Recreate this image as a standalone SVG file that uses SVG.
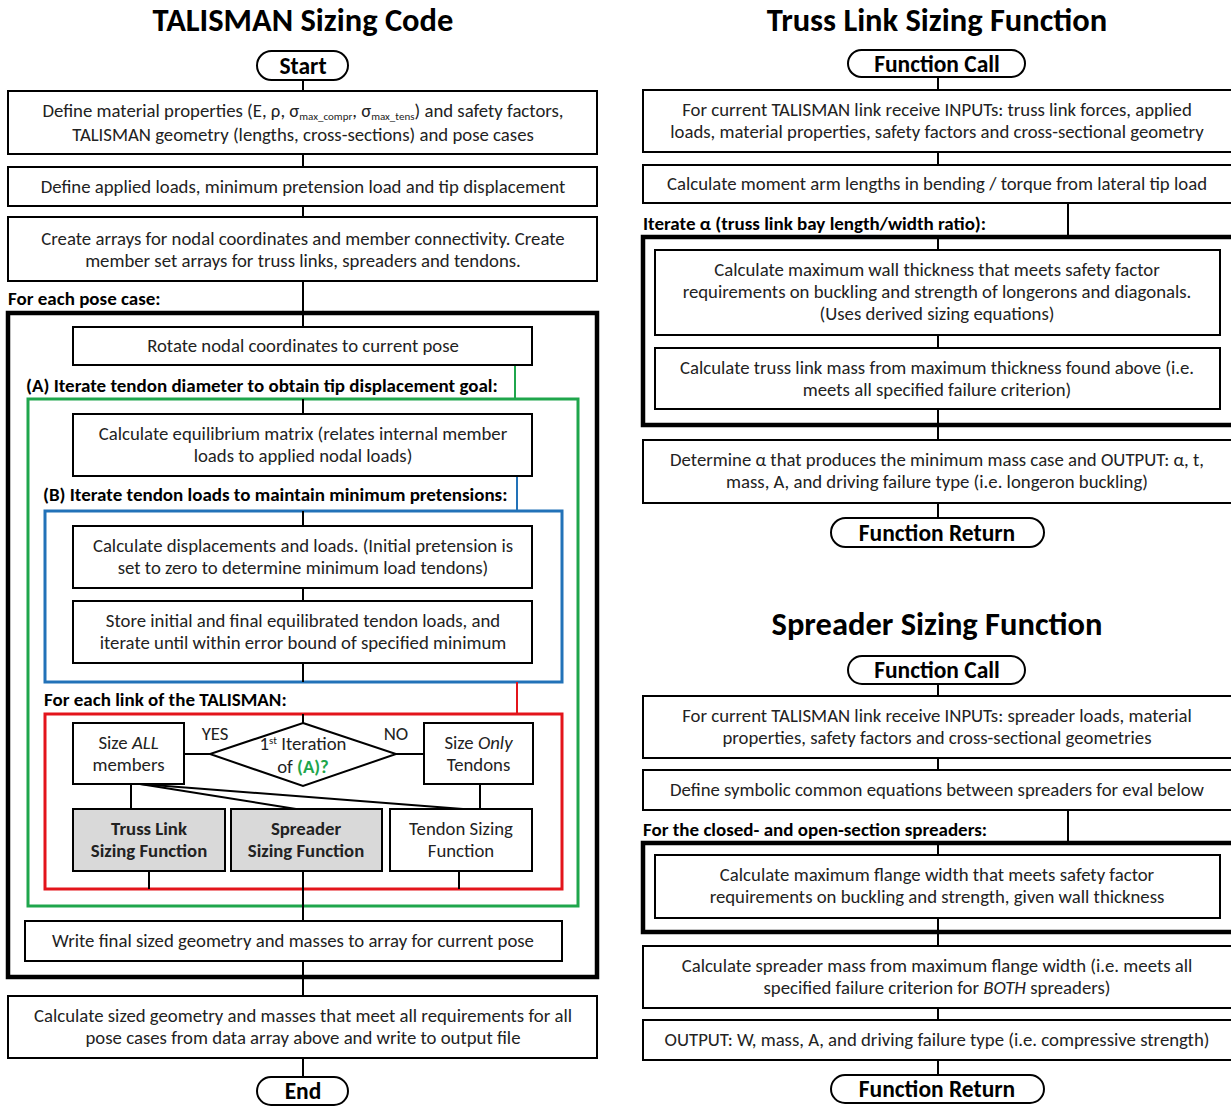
<svg xmlns="http://www.w3.org/2000/svg" width="1231" height="1106" viewBox="0 0 1231 1106">
<style>
text{font-family:Carlito,"Liberation Sans",Arial,sans-serif;font-size:18.75px;fill:#222;text-anchor:middle}
.t{font-size:32.5px;font-weight:bold;fill:#000}
.p{font-size:23.5px;font-weight:bold;fill:#000}
.lb{font-weight:bold;font-size:19px;text-anchor:start;fill:#000}
.b{font-weight:bold}
.box{fill:#fff;stroke:#000;stroke-width:2}
.gray{fill:#d9d9d9;stroke:#000;stroke-width:2}
.pill{fill:#fff;stroke:#000;stroke-width:2}
.frame{fill:none;stroke:#000;stroke-width:4.5}
.green{fill:none;stroke:#1fa64c;stroke-width:3}
.blue{fill:none;stroke:#2272b8;stroke-width:3}
.red{fill:none;stroke:#e3141b;stroke-width:3}
.c line{stroke:#000;stroke-width:2}
.sub{font-size:11px}
</style>
<rect width="1231" height="1106" fill="#fff"/>

<!-- titles -->
<text class="t" x="303" y="31">TALISMAN Sizing Code</text>
<text class="t" x="937" y="31">Truss Link Sizing Function</text>
<text class="t" x="937" y="635">Spreader Sizing Function</text>

<!-- frames -->
<g id="frame-pose"><rect class="frame" x="8" y="313" width="589" height="664"/><text class="lb" x="8" y="305">For each pose case:</text></g>
<g id="frame-A"><rect class="green" x="28" y="399" width="550" height="507"/><text class="lb" x="26" y="392">(A) Iterate tendon diameter to obtain tip displacement goal:</text></g>
<g id="frame-B"><rect class="blue" x="45" y="511" width="517" height="171"/><text class="lb" x="43" y="501">(B) Iterate tendon loads to maintain minimum pretensions:</text></g>
<g id="frame-link"><rect class="red" x="45" y="714" width="517" height="175"/><text class="lb" x="44" y="706">For each link of the TALISMAN:</text></g>
<g id="frame-alpha"><rect class="frame" x="643" y="237" width="600" height="188"/><text class="lb" x="643" y="230">Iterate α (truss link bay length/width ratio):</text></g>
<g id="frame-spreaders"><rect class="frame" x="643" y="843" width="600" height="89"/><text class="lb" x="643" y="836">For the closed- and open-section spreaders:</text></g>

<!-- connectors -->
<g id="connectors" class="c">
<line x1="303" y1="80" x2="303" y2="91"/>
<line x1="303" y1="154" x2="303" y2="167"/>
<line x1="303" y1="206" x2="303" y2="217"/>
<line x1="303" y1="281" x2="303" y2="327"/>
<line x1="303" y1="399" x2="303" y2="414"/>
<line x1="303" y1="511" x2="303" y2="526"/>
<line x1="303" y1="588" x2="303" y2="601"/>
<line x1="303" y1="663" x2="303" y2="682"/>
<line x1="303" y1="714" x2="303" y2="723"/>
<line x1="184" y1="754" x2="210" y2="754"/>
<line x1="396" y1="754" x2="424" y2="754"/>
<line x1="131" y1="784" x2="131" y2="809"/>
<line x1="140" y1="784" x2="296" y2="809"/>
<line x1="140" y1="784" x2="463" y2="809"/>
<line x1="480" y1="784" x2="480" y2="809"/>
<line x1="149" y1="871" x2="149" y2="889"/>
<line x1="459" y1="871" x2="459" y2="889"/>
<line x1="303" y1="871" x2="303" y2="921"/>
<line x1="303" y1="961" x2="303" y2="996"/>
<line x1="303" y1="1058" x2="303" y2="1077"/>
<line x1="515" y1="365" x2="515" y2="399" style="stroke:#1fa64c"/>
<line x1="517" y1="476" x2="517" y2="511" style="stroke:#2272b8"/>
<line x1="517" y1="682" x2="517" y2="714" style="stroke:#e3141b"/>
<line x1="938" y1="77" x2="938" y2="90"/>
<line x1="938" y1="152" x2="938" y2="165"/>
<line x1="1068" y1="203" x2="1068" y2="237"/>
<line x1="938" y1="237" x2="938" y2="250"/>
<line x1="938" y1="335" x2="938" y2="348"/>
<line x1="938" y1="409" x2="938" y2="440"/>
<line x1="938" y1="503" x2="938" y2="518"/>
<line x1="938" y1="684" x2="938" y2="696"/>
<line x1="938" y1="758" x2="938" y2="770"/>
<line x1="1068" y1="810" x2="1068" y2="843"/>
<line x1="938" y1="843" x2="938" y2="855"/>
<line x1="938" y1="918" x2="938" y2="946"/>
<line x1="938" y1="1008" x2="938" y2="1020"/>
<line x1="938" y1="1060" x2="938" y2="1075"/>
</g>

<!-- left nodes -->
<g id="start"><rect class="pill" x="257" y="51" width="91" height="29" rx="14.5"/><text class="p" x="303" y="74">Start</text></g>
<g id="define-material"><rect class="box" x="8" y="91" width="589" height="63"/>
<text x="303" y="117">Define material properties (E, ρ, σ<tspan class="sub" dy="3">max_compr</tspan><tspan dy="-3">, σ</tspan><tspan class="sub" dy="3">max_tens</tspan><tspan dy="-3">) and safety factors,</tspan></text>
<text x="303" y="141">TALISMAN geometry (lengths, cross-sections) and pose cases</text></g>
<g id="define-loads"><rect class="box" x="8" y="167" width="589" height="39"/><text x="303" y="193">Define applied loads, minimum pretension load and tip displacement</text></g>
<g id="create-arrays"><rect class="box" x="8" y="217" width="589" height="64"/>
<text x="303" y="245">Create arrays for nodal coordinates and member connectivity. Create</text>
<text x="303" y="267">member set arrays for truss links, spreaders and tendons.</text></g>
<g id="rotate"><rect class="box" x="73" y="327" width="459" height="38"/><text x="303" y="352">Rotate nodal coordinates to current pose</text></g>
<g id="equilibrium"><rect class="box" x="73" y="414" width="459" height="62"/>
<text x="303" y="440">Calculate equilibrium matrix (relates internal member</text>
<text x="303" y="462">loads to applied nodal loads)</text></g>
<g id="displacements"><rect class="box" x="73" y="526" width="459" height="62"/>
<text x="303" y="552">Calculate displacements and loads. (Initial pretension is</text>
<text x="303" y="574">set to zero to determine minimum load tendons)</text></g>
<g id="store"><rect class="box" x="73" y="601" width="459" height="62"/>
<text x="303" y="627">Store initial and final equilibrated tendon loads, and</text>
<text x="303" y="649">iterate until within error bound of specified minimum</text></g>
<g id="size-all"><rect class="box" x="73" y="723" width="111" height="61"/>
<text x="128.5" y="749">Size <tspan font-style="italic">ALL</tspan></text>
<text x="128.5" y="771">members</text></g>
<g id="first-iteration"><polygon points="303,723 396,754 303,786 210,754" fill="#fff" stroke="#000" stroke-width="2"/>
<text x="303" y="750">1<tspan class="sub" dy="-6">st</tspan><tspan dy="6"> Iteration</tspan></text>
<text x="303" y="773">of <tspan class="b" fill="#1fa64c">(A)?</tspan></text>
<text x="215" y="740">YES</text><text x="396" y="740">NO</text></g>
<g id="size-only"><rect class="box" x="424" y="723" width="109" height="61"/>
<text x="478.5" y="749">Size <tspan font-style="italic">Only</tspan></text>
<text x="478.5" y="771">Tendons</text></g>
<g id="truss-fn"><rect class="gray" x="73" y="809" width="152" height="62"/>
<text class="b" x="149" y="835">Truss Link</text><text class="b" x="149" y="857">Sizing Function</text></g>
<g id="spreader-fn"><rect class="gray" x="231" y="809" width="151" height="62"/>
<text class="b" x="306" y="835">Spreader</text><text class="b" x="306" y="857">Sizing Function</text></g>
<g id="tendon-fn"><rect class="box" x="390" y="809" width="142" height="62"/>
<text x="461" y="835">Tendon Sizing</text><text x="461" y="857">Function</text></g>
<g id="write"><rect class="box" x="25" y="921" width="537" height="40"/><text x="293" y="947">Write final sized geometry and masses to array for current pose</text></g>
<g id="calc-all"><rect class="box" x="8" y="996" width="589" height="62"/>
<text x="303" y="1022">Calculate sized geometry and masses that meet all requirements for all</text>
<text x="303" y="1044">pose cases from data array above and write to output file</text></g>
<g id="end"><rect class="pill" x="257" y="1077" width="91" height="28" rx="14"/><text class="p" x="303" y="1099">End</text></g>

<!-- truss link function -->
<g id="truss-call"><rect class="pill" x="848" y="50" width="177" height="27" rx="13.5"/><text class="p" x="937" y="72">Function Call</text></g>
<g id="truss-inputs"><rect class="box" x="643" y="90" width="600" height="62"/>
<text x="937" y="116">For current TALISMAN link receive INPUTs: truss link forces, applied</text>
<text x="937" y="138">loads, material properties, safety factors and cross-sectional geometry</text></g>
<g id="moment-arm"><rect class="box" x="643" y="165" width="600" height="38"/><text x="937" y="190">Calculate moment arm lengths in bending / torque from lateral tip load</text></g>
<g id="wall-thickness"><rect class="box" x="655" y="250" width="565" height="85"/>
<text x="937" y="276">Calculate maximum wall thickness that meets safety factor</text>
<text x="937" y="298">requirements on buckling and strength of longerons and diagonals.</text>
<text x="937" y="320">(Uses derived sizing equations)</text></g>
<g id="truss-mass"><rect class="box" x="655" y="348" width="565" height="61"/>
<text x="937" y="374">Calculate truss link mass from maximum thickness found above (i.e.</text>
<text x="937" y="396">meets all specified failure criterion)</text></g>
<g id="truss-output"><rect class="box" x="643" y="440" width="600" height="63"/>
<text x="937" y="466">Determine α that produces the minimum mass case and OUTPUT: α, t,</text>
<text x="937" y="488">mass, A, and driving failure type (i.e. longeron buckling)</text></g>
<g id="truss-return"><rect class="pill" x="831" y="518" width="213" height="29" rx="14.5"/><text class="p" x="937" y="541">Function Return</text></g>

<!-- spreader function -->
<g id="spreader-call"><rect class="pill" x="848" y="656" width="177" height="28" rx="14"/><text class="p" x="937" y="678">Function Call</text></g>
<g id="spreader-inputs"><rect class="box" x="643" y="696" width="600" height="62"/>
<text x="937" y="722">For current TALISMAN link receive INPUTs: spreader loads, material</text>
<text x="937" y="744">properties, safety factors and cross-sectional geometries</text></g>
<g id="symbolic"><rect class="box" x="643" y="770" width="600" height="40"/><text x="937" y="796">Define symbolic common equations between spreaders for eval below</text></g>
<g id="flange-width"><rect class="box" x="655" y="855" width="565" height="63"/>
<text x="937" y="881">Calculate maximum flange width that meets safety factor</text>
<text x="937" y="903">requirements on buckling and strength, given wall thickness</text></g>
<g id="spreader-mass"><rect class="box" x="643" y="946" width="600" height="62"/>
<text x="937" y="972">Calculate spreader mass from maximum flange width (i.e. meets all</text>
<text x="937" y="994">specified failure criterion for <tspan font-style="italic">BOTH</tspan> spreaders)</text></g>
<g id="spreader-output"><rect class="box" x="643" y="1020" width="600" height="40"/><text x="937" y="1046">OUTPUT: W, mass, A, and driving failure type (i.e. compressive strength)</text></g>
<g id="spreader-return"><rect class="pill" x="831" y="1075" width="213" height="28" rx="14"/><text class="p" x="937" y="1097">Function Return</text></g>
</svg>
